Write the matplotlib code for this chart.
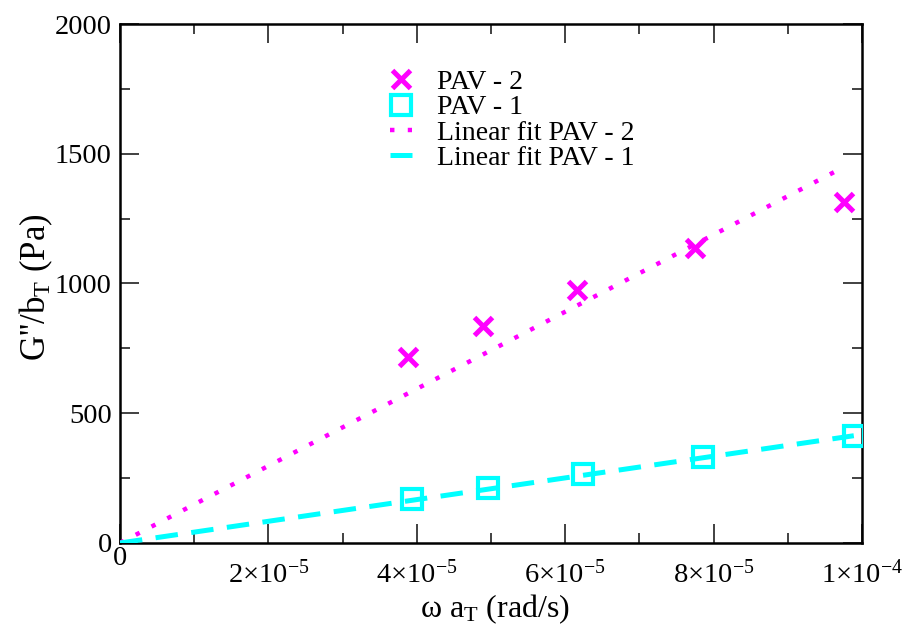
import numpy as np
import matplotlib
matplotlib.use("Agg")
import matplotlib.pyplot as plt
from matplotlib.ticker import MultipleLocator, FixedLocator, NullFormatter
from matplotlib.transforms import ScaledTranslation

plt.rcParams["font.family"] = ["Liberation Serif", "DejaVu Serif"]
plt.rcParams["mathtext.fontset"] = "custom"
plt.rcParams["mathtext.rm"] = "Liberation Serif"
plt.rcParams["mathtext.it"] = "Liberation Serif:italic"
plt.rcParams["mathtext.bf"] = "Liberation Serif:bold"

# Reduced frequency (rad/s) and loss modulus (Pa)
omega_pav2 = [3.88e-5, 4.89e-5, 6.16e-5, 7.75e-5, 9.76e-5]
gpp_pav2 = [717, 836, 975, 1137, 1314]

omega_pav1 = [3.94e-5, 4.96e-5, 6.24e-5, 7.86e-5, 9.89e-5]
gpp_pav1 = [170, 212, 266, 331, 412]

# Slopes of the linear fits through the origin (Pa·s/rad)
fit_slope_pav2 = 1.485e7
fit_slope_pav1 = 4.18e6

x_ticks = [0, 2e-5, 4e-5, 6e-5, 8e-5, 1e-4]
x_tick_labels = ["0", r"$\mathrm{2{\times}10^{-5}}$", r"$\mathrm{4{\times}10^{-5}}$",
                 r"$\mathrm{6{\times}10^{-5}}$", r"$\mathrm{8{\times}10^{-5}}$",
                 r"$\mathrm{1{\times}10^{-4}}$"]
y_ticks = [0, 500, 1000, 1500, 2000]

MAGENTA = "#ff00ff"
CYAN = "#00ffff"
FS_TICK = 20.5
FS_LEG = 20
FS_XLAB = 23
FS_YLAB = 25

fig = plt.figure(figsize=(9.04, 6.27), dpi=100)
ax = fig.add_axes([0.1327, 0.134, 0.8208, 0.8277])

xfit2 = np.array([0.0, omega_pav2[-1]])
xfit1 = np.array([0.0, omega_pav1[-1]])

ax.plot(omega_pav2, gpp_pav2, linestyle="none", marker="x", markersize=13,
        markeredgewidth=3.6, color=MAGENTA, label="PAV - 2", zorder=4)
ax.plot(omega_pav1, gpp_pav1, linestyle="none", marker="s", markersize=15,
        markeredgewidth=3.0, markerfacecolor="none", markeredgecolor=CYAN,
        label="PAV - 1", zorder=4)
ax.plot(xfit2, fit_slope_pav2 * xfit2, linestyle=(0, (1, 3)), linewidth=3.2,
        color=MAGENTA, label="Linear fit PAV - 2", zorder=3)
ax.plot(xfit1, fit_slope_pav1 * xfit1, linestyle=(0, (4.5, 2.7)), linewidth=3.6,
        color=CYAN, label="Linear fit PAV - 1", zorder=3)

ax.set_xlim(0, 1e-4)
ax.set_ylim(0, 2000)

ax.xaxis.set_major_locator(FixedLocator(x_ticks))
ax.xaxis.set_major_formatter(NullFormatter())
ax.xaxis.set_minor_locator(MultipleLocator(1e-5))
ax.yaxis.set_major_locator(FixedLocator(y_ticks))
ax.yaxis.set_minor_locator(MultipleLocator(250))

ax.tick_params(which="both", direction="in", top=True, right=True,
               labelsize=FS_TICK, color="#333333", width=1.3)
ax.tick_params(which="major", length=14, pad=6)
ax.tick_params(which="minor", length=7)
for s in ax.spines.values():
    s.set_linewidth(1.8)

# x tick labels: plain zero sits higher, powers of ten hang on a common baseline
xtrans = ax.get_xaxis_transform()
for xv, lab in zip(x_ticks, x_tick_labels):
    if lab == "0":
        off = ScaledTranslation(0, -3 / 100, fig.dpi_scale_trans)
        ax.text(xv, 0, lab, transform=xtrans + off, ha="center", va="top",
                fontsize=FS_TICK)
    else:
        off = ScaledTranslation(0, -40 / 100, fig.dpi_scale_trans)
        ax.text(xv, 0, lab, transform=xtrans + off, ha="center", va="baseline",
                fontsize=FS_TICK)

ax.set_xlabel(r"ω a$_\mathrm{T}$ (rad/s)", fontsize=FS_XLAB)
ax.xaxis.set_label_coords(0.505, -0.096)
ax.set_ylabel(r"G''/b$_\mathrm{T}$ (Pa)", fontsize=FS_YLAB)
ax.yaxis.set_label_coords(-0.088, 0.493)

leg = ax.legend(loc="upper left", bbox_to_anchor=(0.338, 0.95), frameon=False,
                fontsize=FS_LEG, handlelength=0.8, handletextpad=0.9,
                labelspacing=0.0, borderpad=0.2, numpoints=1)

fig.savefig("out.png", dpi=100)
